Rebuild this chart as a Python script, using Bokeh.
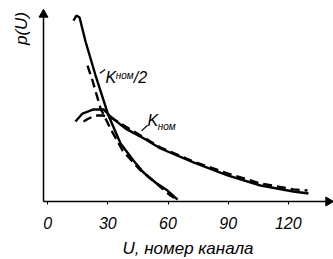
from math import pi
from bokeh.plotting import figure
from bokeh.models import Range1d, FixedTicker, Label
from bokeh.embed import file_html
from bokeh.resources import INLINE

# ---- data ----
x_ticks = [0, 30, 60, 90, 120]

knom2_u = [12.84, 14.32, 15.90, 18.87, 23.80, 30.32, 36.34, 42.76, 47.80, 53.73, 59.75, 64.78]
knom2_p = [0.973, 1.0, 0.989, 0.86, 0.68, 0.462, 0.312, 0.220, 0.156, 0.102, 0.059, 0.010]

knom2d_u = [19.85, 22.32, 26.37, 31.31, 37.33, 46.32, 54.22, 61.23, 65.28]
knom2d_p = [0.731, 0.651, 0.50, 0.392, 0.274, 0.167, 0.097, 0.032, 0.005]

knom_u = [13.83, 17.38, 22.82, 27.85, 31.31, 38.81, 46.32, 56.29, 72.69, 89.67, 106.16, 122.55, 130.06]
knom_p = [0.430, 0.473, 0.495, 0.495, 0.457, 0.392, 0.349, 0.285, 0.210, 0.140, 0.086, 0.054, 0.043]

knomd_u = [17.88, 20.35, 23.80, 27.85, 32.30, 38.81, 46.32, 56.29, 72.69, 89.67, 106.16, 122.55, 129.57]
knomd_p = [0.430, 0.446, 0.462, 0.462, 0.446, 0.403, 0.355, 0.290, 0.215, 0.151, 0.097, 0.065, 0.059]

# axis extents (data units)
ax_x0, ax_x1 = -2.09, 142.0
ax_y0, ax_y1 = 0.0, 1.027

FONT = "Liberation Sans"

p = figure(width=333, height=259, output_backend="svg", toolbar_location=None,
           x_range=Range1d(-23.54, 142.54), y_range=Range1d(-0.3118, 1.0806),
           min_border=0, min_border_left=0, min_border_right=0,
           min_border_top=0, min_border_bottom=0)
p.outline_line_color = None
p.grid.visible = False
p.background_fill_color = "white"
p.border_fill_color = "white"

# x axis at p = 0
xa = p.xaxis[0]
xa.fixed_location = 0
xa.bounds = (ax_x0, ax_x1)
xa.ticker = FixedTicker(ticks=x_ticks)
xa.minor_tick_line_color = None
xa.major_tick_in = 0
xa.major_tick_out = 3
xa.axis_line_width = 1.5
xa.major_tick_line_width = 1
xa.major_label_text_font = FONT
xa.major_label_text_font_style = "italic"
xa.major_label_text_font_size = "16px"
xa.major_label_text_color = "black"
xa.major_label_standoff = 12
xa.axis_label = "U, номер канала"
xa.axis_label_text_font = FONT
xa.axis_label_text_font_style = "italic"
xa.axis_label_text_font_size = "17px"
xa.axis_label_text_color = "black"
xa.axis_label_standoff = 7

# y axis at the left end of the x axis
ya = p.yaxis[0]
ya.fixed_location = ax_x0
ya.bounds = (ax_y0, ax_y1)
ya.ticker = FixedTicker(ticks=[])
ya.major_tick_line_color = None
ya.minor_tick_line_color = None
ya.axis_line_width = 1.5

# curves
p.line(knom2_u, knom2_p, line_color="black", line_width=2.4)
p.line(knom2d_u, knom2d_p, line_color="black", line_width=2.4, line_dash="9 5")
p.line(knom_u, knom_p, line_color="black", line_width=2.4)
p.line(knomd_u, knomd_p, line_color="black", line_width=2.4, line_dash="9 5")

# axis arrow heads (at the axis ends)
p.scatter(x=[ax_x0], y=[ax_y1 - 0.022], marker="triangle", size=9,
          fill_color="black", line_color="black")
p.scatter(x=[ax_x1 - 2.0], y=[ax_y0], marker="triangle", size=9, angle=-pi / 2,
          fill_color="black", line_color="black")

# labels
def lab(x, y, t, size, **kw):
    p.add_layout(Label(x=x, y=y, text=t, text_font=FONT, text_font_style="italic",
                       text_font_size=size, text_color="black", **kw))

lab(-13.07, 0.93, "p(U)", "17px", angle=pi / 2, text_align="center", text_baseline="middle")
lab(28.83, 0.667, "K", "16px", text_baseline="alphabetic")
lab(33.9, 0.675, "ном", "10px", text_baseline="alphabetic")
lab(42.9, 0.667, "/2", "16px", text_baseline="alphabetic")
lab(49.78, 0.435, "K", "16px", text_baseline="alphabetic")
lab(54.9, 0.405, "ном", "10px", text_baseline="alphabetic")

# leader ticks
p.segment(x0=[26.0, 46.8], y0=[0.69, 0.38], x1=[28.7, 49.8], y1=[0.71, 0.41],
          line_color="black", line_width=1.2)

open("out.html", "w").write(file_html(p, INLINE))
